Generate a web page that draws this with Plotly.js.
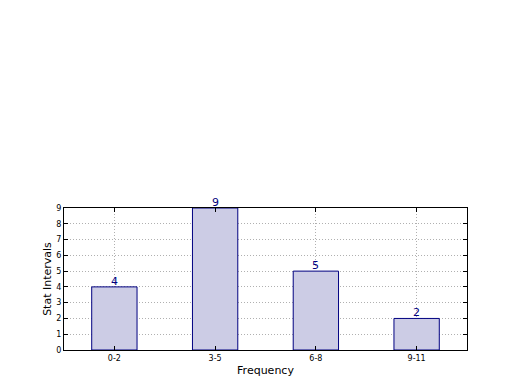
<!DOCTYPE html>
<html>
<head>
<meta charset="utf-8">
<script src="https://cdn.plot.ly/plotly-3.0.1.min.js"></script>
<style>html,body{margin:0;padding:0;background:#fff;}#chart{width:520px;height:390px;}</style>
</head>
<body>
<div id="chart"></div>
<script>
const categories = ["0-2", "3-5", "6-8", "9-11"];
const values = [4, 9, 5, 2];
const yTicks = [0, 1, 2, 3, 4, 5, 6, 7, 8, 9];

const trace = {
  type: 'bar',
  x: categories,
  y: values,
  width: 0.45,
  marker: {color: 'rgb(204,204,229)', line: {color: '#000080', width: 1}},
  hoverinfo: 'none'
};

const annotations = categories.map((c, i) => ({
  x: c, y: values[i], xref: 'x', yref: 'y',
  text: String(values[i]), showarrow: false,
  yanchor: 'bottom', yshift: -3,
  font: {family: 'DejaVu Sans', size: 11, color: '#000080'}
}));

const layout = {
  width: 520, height: 390,
  margin: {l: 64, r: 53, t: 208, b: 40},
  paper_bgcolor: '#fff', plot_bgcolor: '#fff',
  showlegend: false,
  font: {family: 'DejaVu Sans', color: '#000'},
  xaxis: {
    range: [-0.5, 3.5],
    ticks: 'inside', ticklen: 4, tickcolor: '#000',
    showgrid: true, gridcolor: '#b0b0b0', griddash: '1px,2px', gridwidth: 1,
    showline: true, linecolor: '#000', linewidth: 1, mirror: 'ticks',
    tickfont: {size: 8, family: 'DejaVu Sans'},
    title: {text: 'Frequency', font: {size: 11, family: 'DejaVu Sans'}, standoff: 4},
    zeroline: false
  },
  yaxis: {
    range: [0, 9],
    tickvals: yTicks,
    ticks: 'inside', ticklen: 4, tickcolor: '#000',
    showgrid: true, gridcolor: '#b0b0b0', griddash: '1px,2px', gridwidth: 1,
    showline: true, linecolor: '#000', linewidth: 1, mirror: 'ticks',
    tickfont: {size: 8, family: 'DejaVu Sans'},
    title: {text: 'Stat Intervals', font: {size: 11, family: 'DejaVu Sans'}, standoff: 2},
    zeroline: false
  },
  annotations: annotations
};

Plotly.newPlot('chart', [trace], layout, {displayModeBar: false, staticPlot: true});
</script>
</body>
</html>
